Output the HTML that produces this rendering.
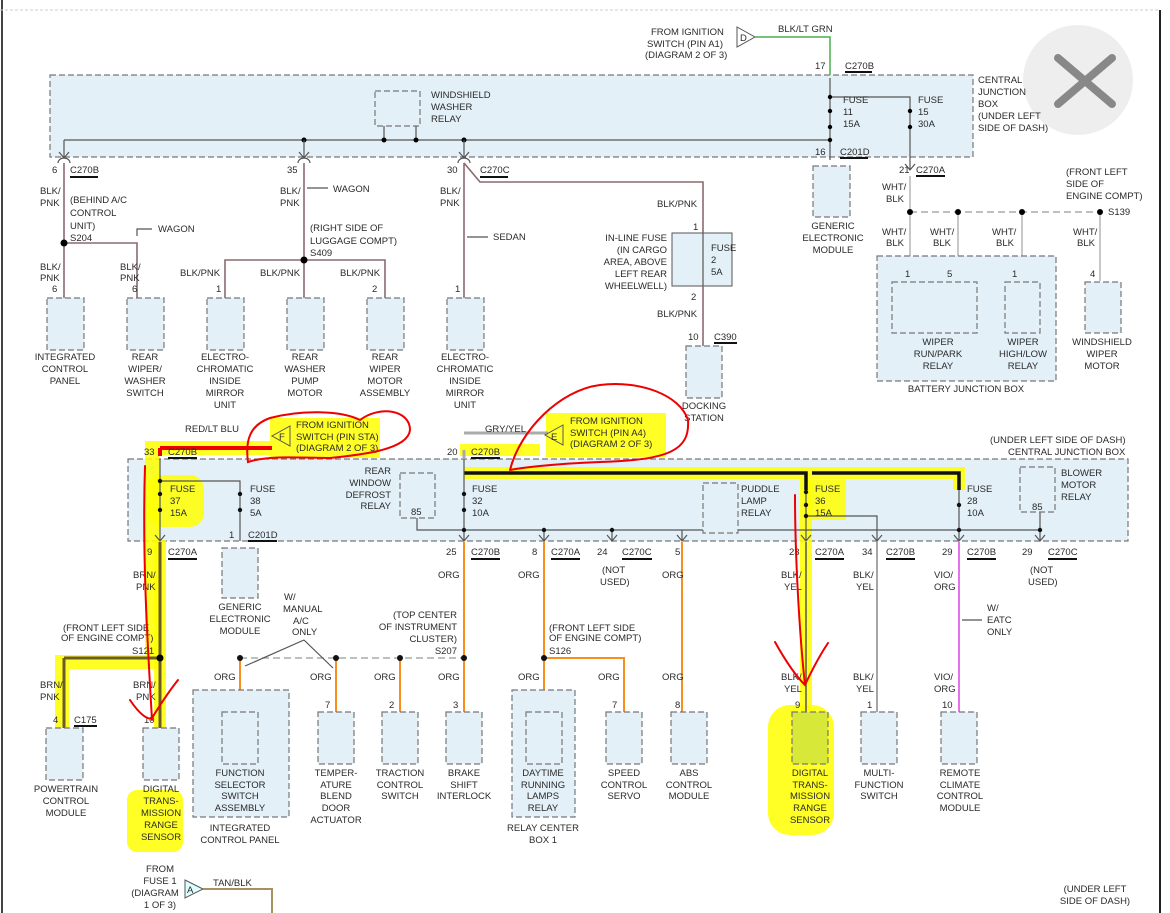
<!DOCTYPE html>
<html><head><meta charset="utf-8"><style>
html,body{margin:0;padding:0;background:#fff;}
svg{display:block;font-family:"Liberation Sans",sans-serif;}
text{font-size:9.5px;fill:#2a2a2a;}
.box{fill:#e3f0f8;stroke:#777;stroke-width:1.2;stroke-dasharray:6,3;}
.w{fill:none;stroke:#555;stroke-width:1.2;}
.pk{fill:none;stroke:#8a6a70;stroke-width:1.6;}
.or{fill:none;stroke:#f5901e;stroke-width:2;}
.dg{fill:none;stroke:#999;stroke-width:1.2;stroke-dasharray:7,4;}
.u{stroke:#111;stroke-width:2;}
</style></head><body>
<svg width="1170" height="913" viewBox="0 0 1170 913" xmlns="http://www.w3.org/2000/svg">
<rect width="1170" height="913" fill="#fff"/>
<line x1="2" y1="0" x2="2" y2="913" stroke="#444" stroke-width="2"/>
<line x1="1160" y1="10" x2="1160" y2="913" stroke="#222" stroke-width="2"/>
<line x1="0" y1="10" x2="1160" y2="10" stroke="#ccc" stroke-dasharray="3,2"/>
<circle cx="1078" cy="80" r="55" fill="#eee"/>
<path d="M1058 58L1112 104M1112 58L1058 104" stroke="#888" stroke-width="8" stroke-linecap="round"/>

<!-- top JB -->
<rect class="box" x="50" y="75" width="923" height="82"/>
<rect class="box" x="375" y="91" width="45" height="35"/>
<text x="431" y="98">WINDSHIELD</text><text x="431" y="110">WASHER</text><text x="431" y="122">RELAY</text>
<path class="w" d="M64 140H830M384 126V140M416 126V140"/>
<circle cx="304" cy="140" r="2.5"/><circle cx="384" cy="140" r="2.5"/><circle cx="416" cy="140" r="2.5"/><circle cx="464" cy="140" r="2.5"/>
<path class="w" d="M64 140V158M304 140V158M464 140V158M59 152l5 6 5-6M299 152l5 6 5-6M459 152l5 6 5-6"/>
<path class="w" d="M58 163a6 5 0 0 1 12 0M298 163a6 5 0 0 1 12 0M458 163a6 5 0 0 1 12 0"/>
<text x="52" y="173">6</text><text x="70" y="173">C270B</text><line class="u" x1="70" y1="177" x2="98" y2="177"/>
<text x="287" y="173">35</text><text x="447" y="173">30</text><text x="480" y="173">C270C</text><line class="u" x1="480" y1="177" x2="508" y2="177"/>
<path class="pk" d="M64 163V243H137V298M64 243V298M304 163V298M225 298V260H385V298M464 163V298M464 163L480 182H703V233"/>
<circle cx="64" cy="243" r="3.5"/><circle cx="304" cy="260" r="3.5"/>
<text x="40" y="194">BLK/</text><text x="40" y="206">PNK</text>
<text x="70" y="203">(BEHIND A/C</text><text x="70" y="216">CONTROL</text><text x="70" y="229">UNIT)</text><text x="70" y="241">S204</text>
<path class="w" d="M152 229H137V236"/><text x="158" y="232">WAGON</text>
<text x="280" y="194">BLK/</text><text x="280" y="206">PNK</text><path class="w" d="M307 188H328"/><text x="333" y="192">WAGON</text>
<text x="310" y="231">(RIGHT SIDE OF</text><text x="310" y="244">LUGGAGE COMPT)</text><text x="310" y="256">S409</text>
<text x="440" y="194">BLK/</text><text x="440" y="206">PNK</text><path class="w" d="M467 237H488"/><text x="493" y="240">SEDAN</text>
<text x="40" y="270">BLK/</text><text x="40" y="281">PNK</text><text x="120" y="270">BLK/</text><text x="120" y="281">PNK</text>
<text x="180" y="276">BLK/PNK</text><text x="260" y="276">BLK/PNK</text><text x="340" y="276">BLK/PNK</text>
<text x="52" y="292">6</text><text x="132" y="292">6</text><text x="216" y="292">1</text><text x="372" y="292">2</text><text x="455" y="292">1</text>
<rect class="box" x="47" y="298" width="37" height="52"/><rect class="box" x="127" y="298" width="37" height="52"/>
<rect class="box" x="207" y="298" width="37" height="52"/><rect class="box" x="287" y="298" width="37" height="52"/>
<rect class="box" x="367" y="298" width="37" height="52"/><rect class="box" x="447" y="298" width="37" height="52"/>
<g text-anchor="middle">
<text x="65" y="360">INTEGRATED</text><text x="65" y="372">CONTROL</text><text x="65" y="384">PANEL</text>
<text x="145" y="360">REAR</text><text x="145" y="372">WIPER/</text><text x="145" y="384">WASHER</text><text x="145" y="396">SWITCH</text>
<text x="225" y="360">ELECTRO-</text><text x="225" y="372">CHROMATIC</text><text x="225" y="384">INSIDE</text><text x="225" y="396">MIRROR</text><text x="225" y="408">UNIT</text>
<text x="305" y="360">REAR</text><text x="305" y="372">WASHER</text><text x="305" y="384">PUMP</text><text x="305" y="396">MOTOR</text>
<text x="385" y="360">REAR</text><text x="385" y="372">WIPER</text><text x="385" y="384">MOTOR</text><text x="385" y="396">ASSEMBLY</text>
<text x="465" y="360">ELECTRO-</text><text x="465" y="372">CHROMATIC</text><text x="465" y="384">INSIDE</text><text x="465" y="396">MIRROR</text><text x="465" y="408">UNIT</text>
</g>
<text x="657" y="207">BLK/PNK</text><text x="693" y="230">1</text>
<rect x="672" y="233" width="60" height="53" fill="#e3f0f8" stroke="#555"/>
<path class="pk" d="M703 286V346"/>
<path class="w" d="M703 233V286"/>
<text x="711" y="251">FUSE</text><text x="711" y="263">2</text><text x="711" y="275">5A</text>
<g text-anchor="end"><text x="667" y="241">IN-LINE FUSE</text><text x="667" y="253">(IN CARGO</text><text x="667" y="265">AREA, ABOVE</text><text x="667" y="277">LEFT REAR</text><text x="667" y="289">WHEELWELL)</text></g>
<text x="691" y="300">2</text><text x="657" y="317">BLK/PNK</text><text x="688" y="340">10</text><text x="714" y="340">C390</text><line class="u" x1="714" y1="343" x2="737" y2="343"/>
<rect class="box" x="686" y="346" width="36" height="52"/>
<text x="704" y="409" text-anchor="middle">DOCKING</text><text x="704" y="421" text-anchor="middle">STATION</text>

<text x="651" y="35">FROM IGNITION</text><text x="647" y="47">SWITCH (PIN A1)</text><text x="645" y="58">(DIAGRAM 2 OF 3)</text>
<path d="M737 27L755 37L737 47Z" fill="#fff" stroke="#555"/><text x="740" y="41">D</text>
<path d="M755 37H830V75" fill="none" stroke="#4caf50" stroke-width="1.5"/>
<text x="778" y="32">BLK/LT GRN</text>
<text x="815" y="69">17</text><text x="845" y="69">C270B</text><line class="u" x1="845" y1="72" x2="872" y2="72"/>
<path class="w" d="M830 78V160M830 97H910V170M905 164l5 6 5-6"/>
<circle cx="830" cy="97" r="2.2"/><circle cx="830" cy="111" r="2.2"/><circle cx="830" cy="127" r="2.2"/><circle cx="830" cy="140" r="2.2"/>
<circle cx="910" cy="111" r="2.2"/><circle cx="910" cy="127" r="2.2"/>
<text x="843" y="103">FUSE</text><text x="843" y="115">11</text><text x="843" y="127">15A</text>
<text x="918" y="103">FUSE</text><text x="918" y="115">15</text><text x="918" y="127">30A</text>
<text x="815" y="155">16</text><text x="840" y="155">C201D</text><line class="u" x1="840" y1="158" x2="868" y2="158"/>
<rect class="box" x="813" y="166" width="37" height="51"/>
<g text-anchor="middle"><text x="833" y="229">GENERIC</text><text x="833" y="241">ELECTRONIC</text><text x="833" y="253">MODULE</text></g>
<text x="978" y="83">CENTRAL</text><text x="978" y="95">JUNCTION</text><text x="978" y="107">BOX</text><text x="978" y="119">(UNDER LEFT</text><text x="978" y="131">SIDE OF DASH)</text>
<text x="899" y="173">21</text><text x="916" y="173">C270A</text><line class="u" x1="916" y1="176" x2="945" y2="176"/>
<path d="M910 176V281M958 212V281M1022 212V281M1100 212V281" fill="none" stroke="#aaa" stroke-width="1.3"/>
<path class="dg" d="M910 212H1100"/>
<circle cx="910" cy="212" r="3"/><circle cx="958" cy="212" r="3"/><circle cx="1022" cy="212" r="3"/><circle cx="1100" cy="212" r="3"/>
<text x="1108" y="215">S139</text>
<text x="1066" y="175">(FRONT LEFT</text><text x="1066" y="187">SIDE OF</text><text x="1066" y="199">ENGINE COMPT)</text>
<text x="882" y="190">WHT/</text><text x="886" y="202">BLK</text>
<text x="882" y="235">WHT/</text><text x="886" y="246">BLK</text><text x="930" y="235">WHT/</text><text x="933" y="246">BLK</text>
<text x="992" y="235">WHT/</text><text x="996" y="246">BLK</text><text x="1073" y="235">WHT/</text><text x="1077" y="246">BLK</text>
<rect class="box" x="877" y="256" width="179" height="125"/>
<rect class="box" x="892" y="282" width="85" height="51"/><rect class="box" x="1005" y="282" width="35" height="51"/>
<rect class="box" x="1085" y="282" width="36" height="51"/>
<text x="905" y="277">1</text><text x="947" y="277">5</text><text x="1012" y="277">1</text><text x="1090" y="277">4</text>
<g text-anchor="middle"><text x="938" y="345">WIPER</text><text x="938" y="357">RUN/PARK</text><text x="938" y="369">RELAY</text>
<text x="1023" y="345">WIPER</text><text x="1023" y="357">HIGH/LOW</text><text x="1023" y="369">RELAY</text>
<text x="1102" y="345">WINDSHIELD</text><text x="1102" y="357">WIPER</text><text x="1102" y="369">MOTOR</text>
<text x="966" y="392">BATTERY JUNCTION BOX</text></g>

<!-- lower JB -->
<rect class="box" x="128" y="459" width="1000" height="82"/>
<path d="M152 655V448H270" fill="none" stroke="#ff0" stroke-width="14" opacity=".85"/>
<path d="M62 730V662H160" fill="none" stroke="#ff0" stroke-width="14" opacity=".85"/>
<path d="M160 540V728" fill="none" stroke="#ff0" stroke-width="12" opacity=".85"/>
<path d="M460 450H540M464 473H959V490M806 473V540M806 540V715" fill="none" stroke="#ff0" stroke-width="12" opacity=".85"/>
<rect x="147" y="475" width="57" height="52" rx="14" fill="#ff0" opacity=".85"/>
<rect x="270" y="418" width="110" height="40" fill="#ff0" opacity=".85"/>
<rect x="546" y="413" width="120" height="44" fill="#ff0" opacity=".85"/>
<rect x="808" y="480" width="38" height="40" fill="#ff0" opacity=".85"/>
<rect x="127" y="790" width="56" height="62" rx="10" fill="#ff0" opacity=".85"/>
<rect x="768" y="705" width="66" height="130" rx="22" fill="#ff0" opacity=".85"/>
<path d="M160 448H272" stroke="#e00" stroke-width="4" fill="none"/><path d="M160 448V456" stroke="#e00" stroke-width="4"/>
<path d="M464 450V458M464 433H548" stroke="#aaa" stroke-width="3" fill="none"/>
<path d="M464 473H806V490M812 473H959V490" stroke="#111" stroke-width="3.5" fill="none"/>
<text x="185" y="432">RED/LT BLU</text><text x="485" y="432">GRY/YEL</text>
<path d="M290 426L272 436L290 446Z" fill="none" stroke="#555"/><text x="279" y="440">F</text>
<path d="M563 425L545 435L563 445Z" fill="none" stroke="#555"/><text x="551" y="440">E</text>
<text x="296" y="428">FROM IGNITION</text><text x="296" y="440">SWITCH (PIN STA)</text><text x="296" y="451">(DIAGRAM 2 OF 3)</text>
<text x="570" y="424">FROM IGNITION</text><text x="570" y="436">SWITCH (PIN A4)</text><text x="570" y="447">(DIAGRAM 2 OF 3)</text>
<text x="144" y="455">33</text><text x="168" y="455">C270B</text><line class="u" x1="168" y1="458" x2="197" y2="458"/>
<text x="447" y="455">20</text><text x="471" y="455">C270B</text><line class="u" x1="471" y1="458" x2="500" y2="458"/>
<text x="990" y="443">(UNDER LEFT SIDE OF DASH)</text><text x="1008" y="455">CENTRAL JUNCTION BOX</text>
<path class="w" d="M160 459V541M160 481H240V541M464 459V541M417 518V530H1040M544 530V541M612 530V541M682 530V541M806 490V541M806 516H877V541M959 490V541M1040 512V541"/>
<path class="w" d="M155 535l5 6 5-6M459 535l5 6 5-6M539 535l5 6 5-6M607 535l5 6 5-6M677 535l5 6 5-6M801 535l5 6 5-6M872 535l5 6 5-6M954 535l5 6 5-6M1035 535l5 6 5-6"/>
<g fill="#111"><circle cx="160" cy="481" r="2.2"/><circle cx="160" cy="494" r="2.2"/><circle cx="160" cy="510" r="2.2"/><circle cx="240" cy="494" r="2.2"/><circle cx="240" cy="510" r="2.2"/>
<circle cx="464" cy="494" r="2.2"/><circle cx="464" cy="510" r="2.2"/><circle cx="464" cy="530" r="2.2"/><circle cx="544" cy="530" r="2.2"/><circle cx="612" cy="530" r="2.2"/>
<circle cx="806" cy="492" r="2.2"/><circle cx="806" cy="505" r="2.2"/><circle cx="806" cy="516" r="2.2"/><circle cx="959" cy="505" r="2.2"/><circle cx="959" cy="530" r="2.2"/><circle cx="1040" cy="530" r="2.2"/></g>
<text x="170" y="492">FUSE</text><text x="170" y="504">37</text><text x="170" y="516">15A</text>
<text x="250" y="492">FUSE</text><text x="250" y="504">38</text><text x="250" y="516">5A</text>
<text x="472" y="492">FUSE</text><text x="472" y="504">32</text><text x="472" y="516">10A</text>
<text x="815" y="492">FUSE</text><text x="815" y="504">36</text><text x="815" y="516">15A</text>
<text x="967" y="492">FUSE</text><text x="967" y="504">28</text><text x="967" y="516">10A</text>
<g text-anchor="end"><text x="391" y="474">REAR</text><text x="391" y="486">WINDOW</text><text x="391" y="498">DEFROST</text><text x="391" y="509">RELAY</text></g>
<rect class="box" x="400" y="473" width="35" height="45"/><text x="411" y="515">85</text>
<rect class="box" x="703" y="483" width="35" height="50"/><text x="741" y="492">PUDDLE</text><text x="741" y="504">LAMP</text><text x="741" y="516">RELAY</text>
<rect class="box" x="1020" y="467" width="35" height="45"/><text x="1032" y="510">85</text>
<text x="1061" y="476">BLOWER</text><text x="1061" y="488">MOTOR</text><text x="1061" y="500">RELAY</text>
<text x="229" y="538">1</text><text x="248" y="538">C201D</text><line class="u" x1="248" y1="541" x2="277" y2="541"/>
<rect class="box" x="222" y="548" width="36" height="50"/>
<g text-anchor="middle"><text x="240" y="610">GENERIC</text><text x="240" y="622">ELECTRONIC</text><text x="240" y="634">MODULE</text></g>
<text x="147" y="555">9</text><text x="168" y="555">C270A</text><line class="u" x1="168" y1="559" x2="197" y2="559"/>
<text x="446" y="555">25</text><text x="471" y="555">C270B</text><line class="u" x1="471" y1="559" x2="500" y2="559"/>
<text x="532" y="555">8</text><text x="551" y="555">C270A</text><line class="u" x1="551" y1="559" x2="580" y2="559"/>
<text x="597" y="555">24</text><text x="622" y="555">C270C</text><line class="u" x1="622" y1="559" x2="652" y2="559"/>
<text x="675" y="555">5</text>
<text x="789" y="555">23</text><text x="815" y="555">C270A</text><line class="u" x1="815" y1="559" x2="844" y2="559"/>
<text x="862" y="555">34</text><text x="886" y="555">C270B</text><line class="u" x1="886" y1="559" x2="915" y2="559"/>
<text x="942" y="555">29</text><text x="967" y="555">C270B</text><line class="u" x1="967" y1="559" x2="996" y2="559"/>
<text x="1022" y="555">29</text><text x="1048" y="555">C270C</text><line class="u" x1="1048" y1="559" x2="1077" y2="559"/>
<text x="602" y="573">(NOT</text><text x="600" y="585">USED)</text><text x="1030" y="573">(NOT</text><text x="1028" y="585">USED)</text>
<path d="M160 542V728M64 658H160M64 658V728" stroke="#6b5a2a" stroke-width="3" fill="none"/>
<circle cx="160" cy="658" r="3.5"/>
<path class="or" d="M464 542V712M544 542V712M544 658H624V712M682 542V712M240 658V712M336 658V712M400 658V712"/>
<path class="dg" d="M240 658H464"/>
<g fill="#111"><circle cx="240" cy="658" r="3"/><circle cx="336" cy="658" r="3"/><circle cx="400" cy="658" r="3"/><circle cx="464" cy="658" r="3"/><circle cx="544" cy="658" r="3"/></g>
<path class="w" d="M304 640L245 666M304 640L333 668"/>
<path d="M806 542V712" stroke="#555" stroke-width="1.5"/><path d="M877 542V712" stroke="#888" stroke-width="1.5"/>
<path d="M959 542V712" stroke="#e040e0" stroke-width="1.5"/>
<path class="w" d="M962 620H982"/><text x="987" y="611">W/</text><text x="987" y="623">EATC</text><text x="987" y="635">ONLY</text>
<text x="133" y="578">BRN/</text><text x="136" y="590">PNK</text><text x="40" y="688">BRN/</text><text x="40" y="700">PNK</text>
<text x="133" y="688">BRN/</text><text x="136" y="700">PNK</text>
<text x="63" y="631">(FRONT LEFT SIDE</text><text x="61" y="641">OF ENGINE COMPT)</text><text x="132" y="654">S121</text>
<text x="284" y="600">W/</text><text x="283" y="612">MANUAL</text><text x="293" y="624">A/C</text><text x="292" y="635">ONLY</text>
<g text-anchor="end"><text x="457" y="618">(TOP CENTER</text><text x="457" y="630">OF INSTRUMENT</text><text x="457" y="642">CLUSTER)</text><text x="457" y="654">S207</text></g>
<text x="549" y="631">(FRONT LEFT SIDE</text><text x="549" y="641">OF ENGINE COMPT)</text><text x="549" y="654">S126</text>
<text x="438" y="578">ORG</text><text x="518" y="578">ORG</text><text x="662" y="578">ORG</text>
<text x="214" y="680">ORG</text><text x="310" y="680">ORG</text><text x="374" y="680">ORG</text><text x="438" y="680">ORG</text><text x="518" y="680">ORG</text><text x="598" y="680">ORG</text><text x="662" y="680">ORG</text>
<text x="781" y="578">BLK/</text><text x="784" y="590">YEL</text><text x="853" y="578">BLK/</text><text x="856" y="590">YEL</text>
<text x="781" y="680">BLK/</text><text x="784" y="692">YEL</text><text x="853" y="680">BLK/</text><text x="856" y="692">YEL</text>
<text x="934" y="578">VIO/</text><text x="934" y="590">ORG</text><text x="934" y="680">VIO/</text><text x="934" y="692">ORG</text>
<text x="53" y="723">4</text><text x="74" y="723">C175</text><line class="u" x1="74" y1="726" x2="97" y2="726"/>
<text x="144" y="723">10</text>
<text x="231" y="708">1</text><text x="250" y="708">C294B</text><line class="u" x1="250" y1="711" x2="279" y2="711"/>
<text x="325" y="708">7</text><text x="389" y="708">2</text><text x="453" y="708">3</text><text x="533" y="708">2</text><text x="612" y="708">7</text><text x="675" y="708">8</text>
<text x="795" y="708">9</text><text x="867" y="708">1</text><text x="942" y="708">10</text>
<rect class="box" x="46" y="728" width="37" height="52"/><rect class="box" x="143" y="728" width="36" height="52"/>
<rect class="box" x="193" y="690" width="96" height="127"/><rect class="box" x="222" y="712" width="36" height="52"/>
<rect class="box" x="318" y="712" width="36" height="52"/><rect class="box" x="382" y="712" width="36" height="52"/><rect class="box" x="446" y="712" width="36" height="52"/>
<rect class="box" x="512" y="690" width="63" height="127"/><rect class="box" x="526" y="712" width="36" height="52"/>
<rect class="box" x="606" y="712" width="36" height="52"/><rect class="box" x="671" y="712" width="36" height="52"/>
<rect class="box" x="792" y="712" width="36" height="52" style="fill:#d8e838"/><rect class="box" x="861" y="712" width="36" height="52"/><rect class="box" x="941" y="712" width="36" height="52"/>
<g text-anchor="middle">
<text x="66" y="792">POWERTRAIN</text><text x="66" y="804">CONTROL</text><text x="66" y="816">MODULE</text>
<text x="161" y="792">DIGITAL</text><text x="161" y="804">TRANS-</text><text x="161" y="816">MISSION</text><text x="161" y="828">RANGE</text><text x="161" y="840">SENSOR</text>
<text x="240" y="776">FUNCTION</text><text x="240" y="788">SELECTOR</text><text x="240" y="799">SWITCH</text><text x="240" y="811">ASSEMBLY</text>
<text x="240" y="831">INTEGRATED</text><text x="240" y="843">CONTROL PANEL</text>
<text x="336" y="776">TEMPER-</text><text x="336" y="788">ATURE</text><text x="336" y="799">BLEND</text><text x="336" y="811">DOOR</text><text x="336" y="823">ACTUATOR</text>
<text x="400" y="776">TRACTION</text><text x="400" y="788">CONTROL</text><text x="400" y="799">SWITCH</text>
<text x="464" y="776">BRAKE</text><text x="464" y="788">SHIFT</text><text x="464" y="799">INTERLOCK</text>
<text x="543" y="776">DAYTIME</text><text x="543" y="788">RUNNING</text><text x="543" y="799">LAMPS</text><text x="543" y="811">RELAY</text>
<text x="543" y="831">RELAY CENTER</text><text x="543" y="843">BOX 1</text>
<text x="624" y="776">SPEED</text><text x="624" y="788">CONTROL</text><text x="624" y="799">SERVO</text>
<text x="689" y="776">ABS</text><text x="689" y="788">CONTROL</text><text x="689" y="799">MODULE</text>
<text x="810" y="776">DIGITAL</text><text x="810" y="788">TRANS-</text><text x="810" y="799">MISSION</text><text x="810" y="811">RANGE</text><text x="810" y="823">SENSOR</text>
<text x="879" y="776">MULTI-</text><text x="879" y="788">FUNCTION</text><text x="879" y="799">SWITCH</text>
<text x="960" y="776">REMOTE</text><text x="960" y="788">CLIMATE</text><text x="960" y="799">CONTROL</text><text x="960" y="811">MODULE</text>
<text x="160" y="872">FROM</text><text x="160" y="884">FUSE 1</text><text x="155" y="896">(DIAGRAM</text><text x="160" y="908">1 OF 3)</text>
<text x="1095" y="892">(UNDER LEFT</text><text x="1095" y="904">SIDE OF DASH)</text>
</g>
<path d="M185 880L203 889L185 898Z" fill="#dff" stroke="#555"/><text x="187" y="893">A</text>
<path d="M203 889H272V913" stroke="#a89060" stroke-width="2" fill="none"/><text x="213" y="886">TAN/BLK</text>
<g fill="none" stroke="#e00" stroke-width="2" stroke-linecap="round">
<path d="M145 466C142 560 148 650 152 720M130 700C140 715 148 720 152 718C160 705 170 690 178 680"/>
<path d="M360 420C380 405 410 410 410 430C408 450 360 455 330 458C300 458 270 455 248 462C245 440 250 425 270 418C300 410 340 410 360 420"/>
<path d="M510 470C520 430 560 390 600 385C640 380 680 395 688 420C690 450 670 460 600 462C550 464 520 468 510 470"/>
<path d="M795 495C795 560 800 640 805 685M775 642C785 660 795 675 805 685C812 670 820 655 828 643"/>
</g>
</svg>
</body></html>
